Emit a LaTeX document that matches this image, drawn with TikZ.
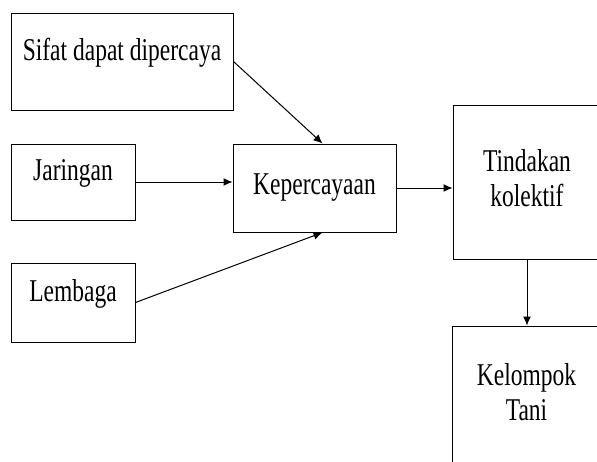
\documentclass[tikz,border=0pt]{standalone}
\usepackage{fontspec}
\setmainfont{Liberation Serif}
\usepackage{graphicx}
\usetikzlibrary{positioning, arrows.meta}
\tikzset{
    box/.style={
           rectangle,
           draw=black, line width=1pt,
           inner sep=2pt,
           text centered,
           font=\fontsize{23.5}{26}\selectfont,
           },
    leftbox/.style={box, text height=10pt, text depth=13pt},
}
\newcommand{\tallt}[1]{\scalebox{1}[1.35]{#1}}

\begin{document}
\begin{tikzpicture}[->,>={Latex[length=9pt,width=8pt]},line width=1pt,x=1pt,y=-1pt]
  \useasboundingbox (0,0) rectangle (597,461);
  \node[leftbox, minimum width=222pt, minimum height=97pt] (sifat)    at (122,61.5)  {\tallt{Sifat dapat dipercaya}};
  \node[leftbox, minimum width=124pt, minimum height=76pt] (jaringan) at (73,182)    {\tallt{Jaringan}};
  \node[leftbox, minimum width=124pt, minimum height=79pt] (lembaga)  at (73,302.5)  {\tallt{Lembaga}};
  \node[box, minimum width=163pt, minimum height=88pt]     (percaya)  at (314.5,188) {\tallt{Kepercayaan}};
  \node[box, minimum width=148pt, minimum height=154pt]    (tindakan) at (527,182)   {\tallt{\begin{tabular}{@{}c@{}}Tindakan\\kolektif\end{tabular}}};
  \node[box, minimum width=149pt, minimum height=140pt]    (kelompok) at (526.5,396) {\tallt{\begin{tabular}{@{}c@{}}Kelompok\\Tani\end{tabular}}};
  \draw (sifat.east)    -- ([xshift=8pt]percaya.north);
  \draw (jaringan.east) -- (jaringan.east -| percaya.west);
  \draw (lembaga.east)  -- ([xshift=8pt]percaya.south);
  \draw (percaya.east)  -- (percaya.east -| tindakan.west);
  \draw (tindakan.south) -- (tindakan.south |- kelompok.north);
\end{tikzpicture}
\end{document}
